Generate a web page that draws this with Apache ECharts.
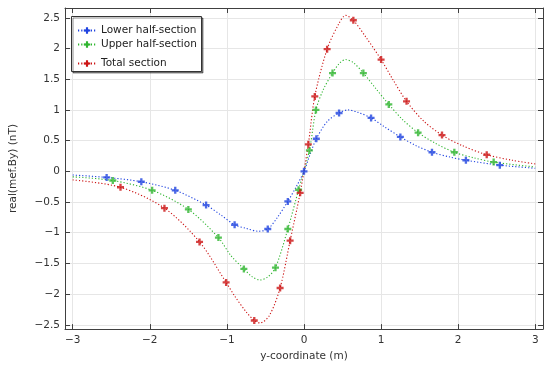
<!DOCTYPE html>
<html><head><meta charset="utf-8">
<script src="https://cdn.jsdelivr.net/npm/echarts@6/dist/echarts.min.js"></script>
<style>html,body{margin:0;padding:0;background:#fff}#c{width:550px;height:367px}</style>
</head><body><div id="c"></div>
<script>
// ---- data ----
const seriesNames = ['Lower half-section', 'Upper half-section', 'Total section'];

const lowerCurveX = [-3, -2.56, -2.11, -1.67, -1.27, -1.08, -0.9, -0.75, -0.59, -0.47, -0.35, -0.21, -0.1, 0, 0.08, 0.16, 0.3, 0.455, 0.57, 0.7, 0.87, 1.05, 1.25, 1.45, 1.66, 1.9, 2.1, 2.54, 3];
const lowerCurveY = [-0.06, -0.10, -0.17, -0.31, -0.55, -0.71, -0.87, -0.93, -0.976, -0.94, -0.76, -0.49, -0.25, 0, 0.28, 0.53, 0.81, 0.95, 1.0, 0.96, 0.87, 0.72, 0.56, 0.42, 0.31, 0.23, 0.18, 0.10, 0.05];
const lowerMarkX = [-2.56, -2.11, -1.67, -1.27, -0.90, -0.47, -0.21, 0.0, 0.16, 0.455, 0.87, 1.25, 1.66, 2.10, 2.54];
const lowerMarkY = [-0.10, -0.17, -0.31, -0.55, -0.87, -0.94, -0.49, 0.0, 0.53, 0.95, 0.87, 0.56, 0.31, 0.18, 0.10];

const upperCurveX = [-3, -2.48, -1.97, -1.5, -1.11, -0.95, -0.78, -0.67, -0.57, -0.47, -0.37, -0.21, -0.07, 0.07, 0.155, 0.25, 0.37, 0.46, 0.54, 0.64, 0.77, 0.93, 1.1, 1.28, 1.48, 1.7, 1.95, 2.2, 2.46, 3];
const upperCurveY = [-0.09, -0.15, -0.31, -0.62, -1.08, -1.37, -1.59, -1.72, -1.77, -1.72, -1.57, -0.94, -0.30, 0.34, 1.00, 1.33, 1.60, 1.76, 1.82, 1.77, 1.60, 1.35, 1.09, 0.84, 0.63, 0.46, 0.31, 0.22, 0.15, 0.07];
const upperMarkX = [-2.48, -1.97, -1.50, -1.11, -0.78, -0.37, -0.21, -0.07, 0.07, 0.155, 0.37, 0.77, 1.10, 1.48, 1.95, 2.46];
const upperMarkY = [-0.15, -0.31, -0.62, -1.08, -1.59, -1.57, -0.94, -0.30, 0.34, 1.00, 1.60, 1.60, 1.09, 0.63, 0.31, 0.15];

const totalCurveX = [-3, -2.38, -1.81, -1.355, -1.01, -0.9, -0.75, -0.645, -0.57, -0.45, -0.31, -0.18, -0.05, 0.056, 0.14, 0.3, 0.45, 0.54, 0.64, 0.8, 1.0, 1.15, 1.33, 1.55, 1.79, 2.05, 2.37, 2.7, 3];
const totalCurveY = [-0.14, -0.26, -0.60, -1.15, -1.81, -2.03, -2.29, -2.43, -2.47, -2.35, -1.90, -1.13, -0.35, 0.44, 1.22, 1.99, 2.40, 2.54, 2.46, 2.19, 1.82, 1.50, 1.14, 0.82, 0.59, 0.42, 0.27, 0.18, 0.12];
const totalMarkX = [-2.38, -1.81, -1.355, -1.01, -0.645, -0.31, -0.18, -0.05, 0.056, 0.14, 0.30, 0.64, 1.00, 1.33, 1.79, 2.37];
const totalMarkY = [-0.26, -0.60, -1.15, -1.81, -2.43, -1.90, -1.13, -0.35, 0.44, 1.22, 1.99, 2.46, 1.82, 1.14, 0.59, 0.27];

const xAxisTitle = 'y-coordinate (m)';
const yAxisTitle = 'real(mef.By) (nT)';

// ---- chart ----
const colors = ['#1f43e0', '#2fb52f', '#cc1414'];
const plusPath = 'path://M3,0H6V3H9V6H6V9H3V6H0V3H3Z';
const FONT = 'DejaVu Sans';
const zip = (xs, ys) => xs.map((x, i) => [x, ys[i]]);
const minus = v => String(v).replace('-', '\u2212');

const curves = [[lowerCurveX, lowerCurveY], [upperCurveX, upperCurveY], [totalCurveX, totalCurveY]];
const marks = [[lowerMarkX, lowerMarkY], [upperMarkX, upperMarkY], [totalMarkX, totalMarkY]];

const series = [];
seriesNames.forEach((name, i) => {
  series.push({
    name: name, type: 'line', smooth: 0.3, clip: false,
    symbol: plusPath, symbolSize: 7, showSymbol: false,
    data: zip(curves[i][0], curves[i][1]),
    itemStyle: { color: colors[i] },
    lineStyle: { color: colors[i], width: 1.1, type: [1.2, 2] },
    z: 2 + i, silent: true, animation: false
  });
});
seriesNames.forEach((name, i) => {
  series.push({
    name: name + ' markers', type: 'scatter', symbol: plusPath, symbolSize: 7,
    data: zip(marks[i][0], marks[i][1]),
    itemStyle: { color: colors[i] },
    z: 5 + i, silent: true, animation: false
  });
});

const axisLineStyle = { color: '#404040', width: 1 };
const labelStyle = { color: '#333', fontSize: 10.5, fontFamily: FONT };
function xAx(pos, main) {
  return {
    type: 'value', position: pos, min: -3.1, max: 3.1, splitNumber: 6,
    axisLine: { show: true, onZero: false, lineStyle: axisLineStyle },
    axisTick: { show: true, inside: true, length: 5, lineStyle: axisLineStyle },
    axisLabel: { show: main, formatter: minus, margin: 6, showMinLabel: false, showMaxLabel: false, ...labelStyle },
    splitLine: { show: main, lineStyle: { color: '#e6e6e6', width: 1 } },
    name: main ? xAxisTitle : '', nameLocation: 'middle', nameGap: 19,
    nameTextStyle: { color: '#333', fontSize: 10.5, fontFamily: FONT }
  };
}
function yAx(pos, main) {
  return {
    type: 'value', position: pos, min: -2.57, max: 2.66, splitNumber: 10,
    axisLine: { show: true, onZero: false, lineStyle: axisLineStyle },
    axisTick: { show: true, inside: true, length: 5, lineStyle: axisLineStyle },
    axisLabel: { show: main, formatter: minus, margin: 5, showMinLabel: false, showMaxLabel: false, ...labelStyle },
    splitLine: { show: main, lineStyle: { color: '#e6e6e6', width: 1 } },
    name: main ? yAxisTitle : '', nameLocation: 'middle', nameGap: 46, nameRotate: 90,
    nameTextStyle: { color: '#333', fontSize: 10.5, fontFamily: FONT }
  };
}

const legendCommon = {
  orient: 'vertical', left: 77, padding: 0, itemWidth: 18, itemHeight: 8, itemGap: 0,
  textStyle: { color: '#222', fontSize: 10.5, fontFamily: FONT }, selectedMode: false
};

const chart = echarts.init(document.getElementById('c'), null, { renderer: 'canvas' });
chart.setOption({
  animation: false,
  backgroundColor: '#fff',
  grid: { left: 63, right: 7, top: 8, bottom: 34, containLabel: false },
  xAxis: [xAx('bottom', true), xAx('top', false)],
  yAxis: [yAx('left', true), yAx('right', false)],
  legend: [
    Object.assign({ data: [seriesNames[0]], top: 25 }, legendCommon),
    Object.assign({ data: [seriesNames[1]], top: 39 }, legendCommon),
    Object.assign({ data: [seriesNames[2]], top: 58 }, legendCommon)
  ],
  graphic: [{
    type: 'rect', z: 3, left: 71, top: 16,
    shape: { width: 130, height: 55 },
    style: { fill: '#fff', stroke: '#333', lineWidth: 1, shadowColor: 'rgba(0,0,0,0.45)', shadowOffsetX: 1.5, shadowOffsetY: 1.5, shadowBlur: 0 }
  }],
  series: series
});
</script>
</body></html>
